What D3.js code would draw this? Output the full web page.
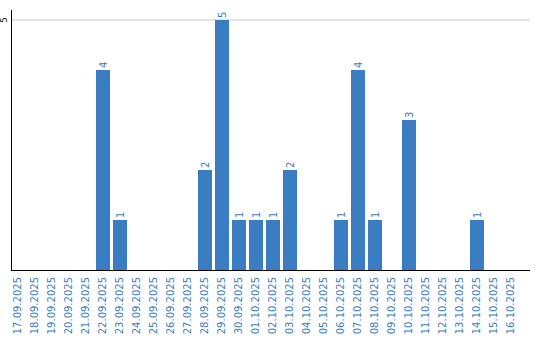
<!DOCTYPE html>
<html>
<head>
<meta charset="utf-8">
<script src="https://cdn.jsdelivr.net/npm/d3@7"></script>
<style>
  body { margin: 0; background: #fff; }
  text { font-family: "DejaVu Sans", sans-serif; }
</style>
</head>
<body>
<svg id="chart" width="540" height="340"></svg>
<script>
const dates = [
  "17.09.2025", "18.09.2025", "19.09.2025", "20.09.2025", "21.09.2025",
  "22.09.2025", "23.09.2025", "24.09.2025", "25.09.2025", "26.09.2025",
  "27.09.2025", "28.09.2025", "29.09.2025", "30.09.2025", "01.10.2025",
  "02.10.2025", "03.10.2025", "04.10.2025", "05.10.2025", "06.10.2025",
  "07.10.2025", "08.10.2025", "09.10.2025", "10.10.2025", "11.10.2025",
  "12.10.2025", "13.10.2025", "14.10.2025", "15.10.2025", "16.10.2025"
];
const counts = [0, 0, 0, 0, 0, 4, 1, 0, 0, 0, 0, 2, 5, 1, 1, 1, 2, 0, 0, 1, 4, 1, 0, 3, 0, 0, 0, 1, 0, 0];
const yTicks = [5];

const blue = "#3b7dc2";
const svg = d3.select("#chart");

const left = 11, bottom = 270, right = 530;

const x = d3.scaleBand()
  .domain(dates)
  .range([left, left + 17 * 30 - 3])
  .paddingInner(3 / 17)
  .paddingOuter(0);

const y = d3.scaleLinear().domain([0, 5]).range([bottom, 20]);

// gridline
svg.selectAll(".grid")
  .data(yTicks)
  .enter()
  .append("line")
  .attr("x1", left)
  .attr("x2", right)
  .attr("y1", (d) => y(d))
  .attr("y2", (d) => y(d))
  .attr("stroke", "#c8c8c8")
  .attr("stroke-width", 1);

const data = dates.map((d, i) => ({ date: d, value: counts[i] }));

svg.selectAll(".bar")
  .data(data.filter((d) => d.value > 0))
  .enter()
  .append("rect")
  .attr("x", (d) => x(d.date))
  .attr("y", (d) => y(d.value))
  .attr("width", x.bandwidth())
  .attr("height", (d) => bottom - y(d.value))
  .attr("fill", blue);

// value labels
svg.selectAll(".val")
  .data(data.filter((d) => d.value > 0))
  .enter()
  .append("text")
  .attr("transform", (d) =>
    "translate(" + (x(d.date) + x.bandwidth() / 2 + 4) + "," + (y(d.value) - 2) + ") rotate(-90)")
  .attr("font-size", 10)
  .attr("fill", blue)
  .text((d) => d.value);

// axes
svg.append("line")
  .attr("x1", left + 0.5).attr("x2", left + 0.5)
  .attr("y1", 10).attr("y2", bottom)
  .attr("stroke", "#000");

svg.append("line")
  .attr("x1", left).attr("x2", right)
  .attr("y1", bottom + 0.5).attr("y2", bottom + 0.5)
  .attr("stroke", "#000");

svg.selectAll(".ytick")
  .data(yTicks)
  .enter()
  .append("text")
  .attr("transform", (d) => "translate(7," + y(d) + ") rotate(-90)")
  .attr("text-anchor", "middle")
  .attr("font-size", 8)
  .attr("fill", "#000")
  .text((d) => d);

svg.selectAll(".xtick")
  .data(dates)
  .enter()
  .append("text")
  .attr("transform", (d) =>
    "translate(" + (x(d) + x.bandwidth() / 2 + 3) + "," + (bottom + 7) + ") rotate(-90)")
  .attr("text-anchor", "end")
  .attr("font-size", 10)
  .attr("fill", blue)
  .text((d) => d);
</script>
</body>
</html>
